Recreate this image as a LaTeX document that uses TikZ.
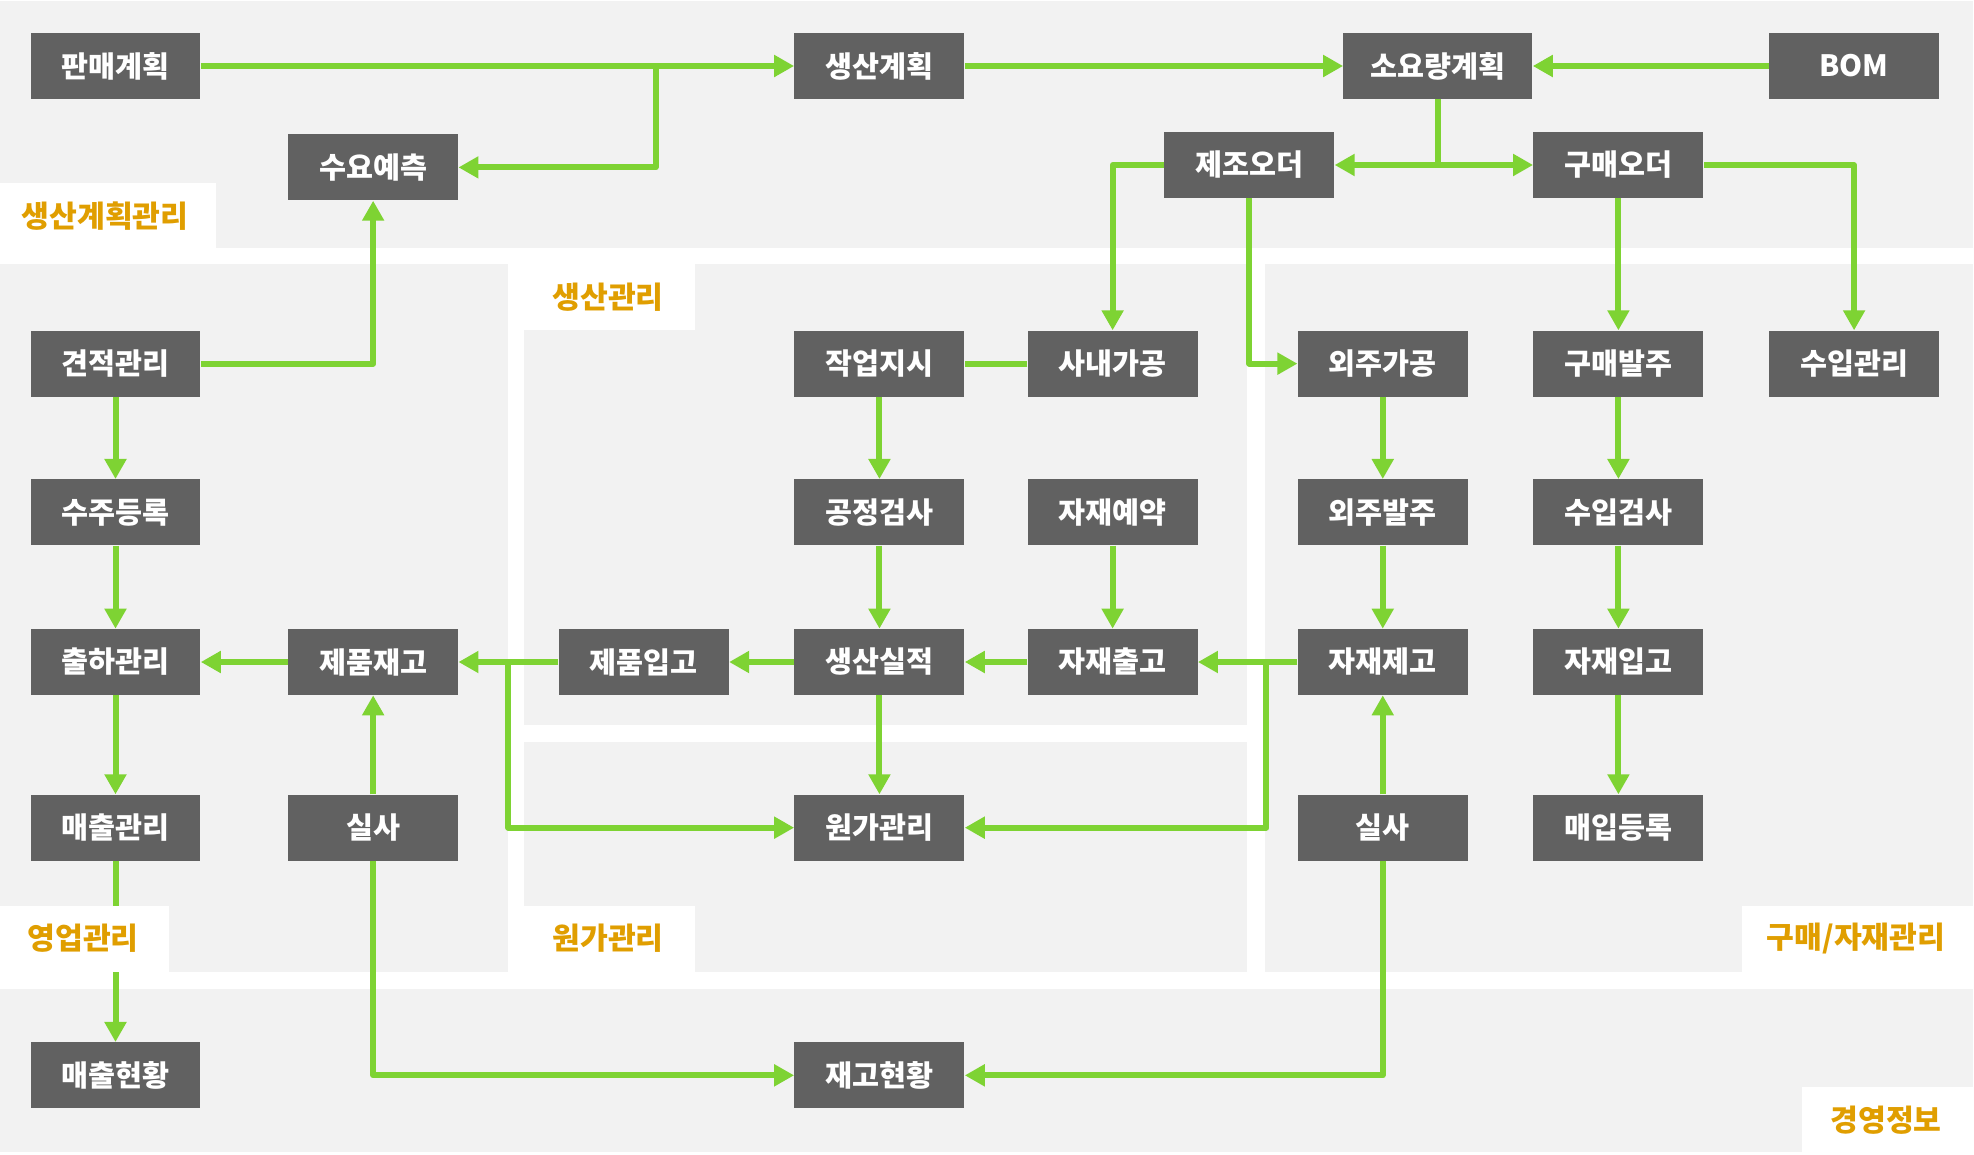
\documentclass[tikz,border=0pt]{standalone}
\usepackage{fontspec}
\usepackage{xcolor}
\usepackage{tikz}
\usetikzlibrary{arrows.meta, positioning}
\newfontfamily\krfont{Noto Sans CJK KR}
\definecolor{boxgray}{RGB}{97, 97, 97}
\definecolor{flowgreen}{RGB}{126, 211, 51}
\definecolor{zonegray}{RGB}{242, 242, 242}
\definecolor{tagorange}{RGB}{224, 158, 0}

\begin{document}
\begin{tikzpicture}[x=0.02cm, y=-0.02cm, >={Triangle[length=0.4cm, width=0.42cm]},
    every node/.style={font=\krfont\bfseries\fontsize{16.7pt}{19pt}\selectfont},
    procbox/.style={fill=boxgray, text=white, minimum width=3.4cm, minimum height=1.32cm, inner sep=0pt},
    flowline/.style={line width=0.12cm, flowgreen, line join=round},
    zonelabel/.style={text=tagorange, inner sep=0pt, font=\krfont\bfseries\fontsize{17.2pt}{20pt}\selectfont}]
        \useasboundingbox (0,0) rectangle (1974,1154);

        \fill[zonegray] (0,1) rectangle (1973,248);
        \fill[zonegray] (0,264) rectangle (508,972);
        \fill[zonegray] (524,264) rectangle (1247,725);
        \fill[zonegray] (524,742) rectangle (1247,972);
        \fill[zonegray] (1265,264) rectangle (1973,972);
        \fill[zonegray] (0,989) rectangle (1973,1152);

        \node[procbox] (pm) at (115.5,66) {판매계획};
        \node[procbox, below=4.62cm of pm] (gj) {견적관리};
        \node[procbox, below=1.64cm of gj] (sj) {수주등록};
        \node[procbox, below=1.66cm of sj] (ch) {출하관리};
        \node[procbox, below=1.98cm of ch] (mc) {매출관리};
        \node[procbox, below=3.62cm of mc] (mh) {매출현황};
        \node[procbox, right=1.74cm of ch] (jj) {제품재고};
        \node[procbox, right=1.74cm of mc] (ss1) {실사};
        \node[procbox, above=8.56cm of jj] (sy) {수요예측};
        \node[procbox, right=2cm of jj] (ji) {제품입고};
        \node[procbox, right=1.3cm of ji] (sl) {생산실적};
        \node[procbox, above=1.66cm of sl] (gs) {공정검사};
        \node[procbox, above=1.64cm of gs] (jg) {작업지시};
        \node[procbox, above=4.62cm of jg] (spl) {생산계획};
        \node[procbox, below=1.98cm of sl] (wg) {원가관리};
        \node[procbox, below=3.62cm of wg] (jh) {재고현황};
        \node[procbox, right=1.25cm of sl] (jc) {자재출고};
        \node[procbox, above=1.66cm of jc] (jy) {자재예약};
        \node[procbox, above=1.64cm of jy] (sn) {사내가공};
        \node[procbox, right=1.99cm of jc] (jjg) {자재제고};
        \node[procbox, above=1.66cm of jjg] (wb) {외주발주};
        \node[procbox, above=1.64cm of wb] (wgg) {외주가공};
        \node[procbox, below=1.98cm of jjg] (ss2) {실사};
        \node[procbox, right=1.3cm of jjg] (jig) {자재입고};
        \node[procbox, above=1.66cm of jig] (sg) {수입검사};
        \node[procbox, above=1.64cm of sg] (gb) {구매발주};
        \node[procbox, above=2.64cm of gb] (go) {구매오더};
        \node[procbox, below=1.98cm of jig] (md) {매입등록};
        \node[procbox, right=1.3cm of gb] (sgl) {수입관리};
        \node[procbox, above=4.62cm of sgl] (bom) {BOM};
        \node[procbox, minimum width=3.78cm, left=4.72cm of bom] (syr) {소요량계획};
        \node[procbox, left=3.97cm of go] (jo) {제조오더};

        \coordinate (fork1) at ([xshift=9.1cm]pm.east);
        \coordinate (fork2) at (syr.south |- jo.east);
        \coordinate (fork3) at ([xshift=-1cm]ji.west);
        \coordinate (fork4) at ([xshift=-0.62cm]jjg.west);

        \draw[flowline, ->] (pm.east) -- (spl.west);
        \draw[flowline, ->] (fork1) |- (sy.east);
        \draw[flowline, ->] (spl.east) -- (syr.west);
        \draw[flowline, ->] (bom.west) -- (syr.east);
        \draw[flowline] (syr.south) -- (fork2);
        \draw[flowline, ->] (fork2) -- (jo.east);
        \draw[flowline, ->] (fork2) -- (go.west);
        \draw[flowline, ->] (jo.west) -| (sn.north);
        \draw[flowline, ->] (jo.south) |- (wgg.west);
        \draw[flowline, ->] (go.south) -- (gb.north);
        \draw[flowline, ->] (go.east) -| (sgl.north);

        \draw[flowline, ->] (gj.east) -| (sy.south);
        \draw[flowline, ->] (gj.south) -- (sj.north);
        \draw[flowline, ->] (sj.south) -- (ch.north);
        \draw[flowline, ->] (ch.south) -- (mc.north);
        \draw[flowline, ->] (mc.south) -- (mh.north);
        \draw[flowline, ->] (jj.west) -- (ch.east);
        \draw[flowline, ->] (ss1.north) -- (jj.south);
        \draw[flowline, ->] (ss1.south) |- (jh.west);

        \draw[flowline] (sn.west) -- (jg.east);
        \draw[flowline, ->] (jg.south) -- (gs.north);
        \draw[flowline, ->] (gs.south) -- (sl.north);
        \draw[flowline, ->] (jy.south) -- (jc.north);
        \draw[flowline, ->] (jc.west) -- (sl.east);
        \draw[flowline, ->] (sl.west) -- (ji.east);
        \draw[flowline, ->] (ji.west) -- (jj.east);
        \draw[flowline, ->] (fork3) |- (wg.west);
        \draw[flowline, ->] (sl.south) -- (wg.north);

        \draw[flowline, ->] (wgg.south) -- (wb.north);
        \draw[flowline, ->] (wb.south) -- (jjg.north);
        \draw[flowline, ->] (jjg.west) -- (jc.east);
        \draw[flowline, ->] (fork4) |- (wg.east);
        \draw[flowline, ->] (ss2.north) -- (jjg.south);
        \draw[flowline, ->] (ss2.south) |- (jh.east);
        \draw[flowline, ->] (gb.south) -- (sg.north);
        \draw[flowline, ->] (sg.south) -- (jig.north);
        \draw[flowline, ->] (jig.south) -- (md.north);

        \fill[white] (0,183) rectangle (216,248);
        \fill[white] (508,264) rectangle (695,330);
        \fill[white] (0,906) rectangle (169,972);
        \fill[white] (508,906) rectangle (695,972);
        \fill[white] (1742,906) rectangle (1974,972);
        \fill[white] (1802,1087) rectangle (1974,1154);

        \node[zonelabel] (tagplan) at (105,216) {생산계획관리};
        \node[zonelabel] (tagprod) at (608,297) {생산관리};
        \node[zonelabel] (tagsales) at (83,938) {영업관리};
        \node[zonelabel] (tagcost) at (608,938) {원가관리};
        \node[zonelabel] (tagbuy) at (1856,938) {구매/자재관리};
        \node[zonelabel] (taginfo) at (1886,1120) {경영정보};
    \end{tikzpicture}
\end{document}
